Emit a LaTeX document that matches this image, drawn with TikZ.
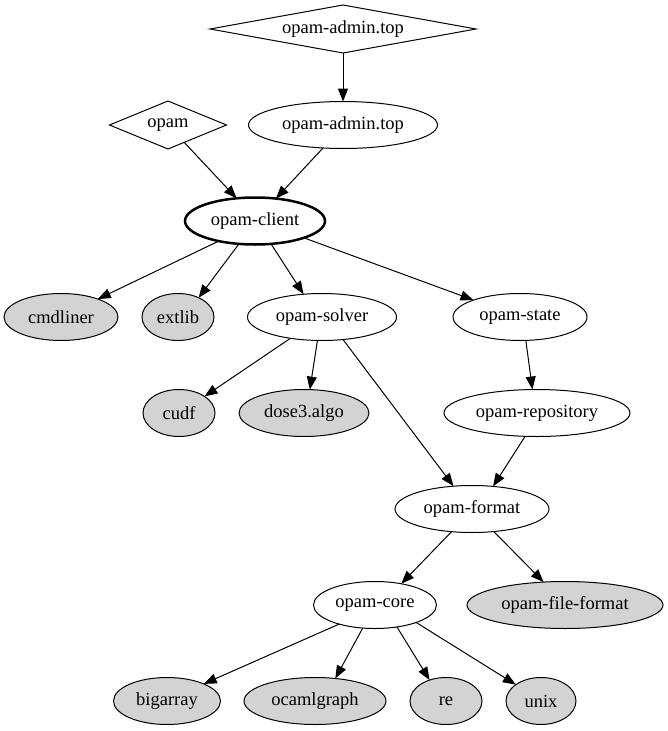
\documentclass[tikz,border=0pt]{standalone}
\usepackage{fontspec}
\setmainfont{Liberation Serif}
\usetikzlibrary{shapes.geometric,arrows.meta}
\definecolor{lgray}{HTML}{D3D3D3}
\begin{document}
\begin{tikzpicture}[x=1pt,y=-1pt,line width=1pt,
  every node/.style={font=\fontsize{18.5}{22}\selectfont, draw, inner sep=0pt, outer sep=0pt},
  ell/.style={ellipse, minimum height=47pt},
  dep/.style={ell, fill=lgray},
  dia/.style={diamond, minimum height=48pt},
  conn/.style={-{Triangle[length=13pt,width=10pt]}}
]
\useasboundingbox (0,0) rectangle (667,731);
% nodes
\node[dia, minimum width=266pt, aspect=5.5] (adminD) at (343,29) {opam-admin.top};
\node[ell, minimum width=189pt] (adminE) at (343,125) {opam-admin.top};
\node[dia, minimum width=117pt, aspect=2.4] (opamD) at (168,125) {opam};
\node[ell, minimum width=140pt, line width=2.5pt] (client) at (255,221) {opam-client};
\node[dep, minimum width=114pt] (cmdliner) at (61,317) {cmdliner};
\node[dep, minimum width=72pt] (extlib) at (178,317) {extlib};
\node[ell, minimum width=149pt] (solver) at (322,317) {opam-solver};
\node[ell, minimum width=134pt] (state) at (520,317) {opam-state};
\node[dep, minimum width=72pt] (cudf) at (179,413) {cudf};
\node[dep, minimum width=130pt] (dose) at (304,413) {dose3.algo};
\node[ell, minimum width=186pt] (repo) at (537,413) {opam-repository};
\node[ell, minimum width=154pt] (format) at (472,509) {opam-format};
\node[ell, minimum width=123pt] (core) at (375,605) {opam-core};
\node[dep, minimum width=196pt] (ffmt) at (565,605) {opam-file-format};
\node[dep, minimum width=107pt] (bigarray) at (167,701) {bigarray};
\node[dep, minimum width=142pt] (ocamlgraph) at (315,701) {ocamlgraph};
\node[dep, minimum width=72pt] (re) at (446,701) {re};
\node[dep, minimum width=70pt] (unix) at (541,701) {unix};
% edges
\draw[conn] (adminD.south) -- (adminE.north);
\draw[conn] (opamD.-47.5) -- (client.129.8);
\draw[conn] (adminE.-131) -- (client.47.5);
\draw[conn] (client.-151.8) -- (cmdliner.26);
\draw[conn] (client.-125) -- (extlib.43.7);
\draw[conn] (client.-55.8) -- (solver.129);
\draw[conn] (client.-19.8) -- (state.160);
\draw[conn] (solver.-146) -- (cudf.33.7);
\draw[conn] (solver.-101.8) -- (dose.76);
\draw[conn] (solver.-47.6) -- (format.129.6);
\draw[conn] (state.-76) -- (repo.101.8);
\draw[conn] (repo.-117.6) -- (format.47.6);
\draw[conn] (format.-132.5) -- (core.39.4);
\draw[conn] (format.-46.2) -- (ffmt.133.7);
\draw[conn] (core.-152) -- (bigarray.25);
\draw[conn] (core.-118.6) -- (ocamlgraph.48);
\draw[conn] (core.-45) -- (re.128);
\draw[conn] (core.-23) -- (unix.147);
\end{tikzpicture}
\end{document}
